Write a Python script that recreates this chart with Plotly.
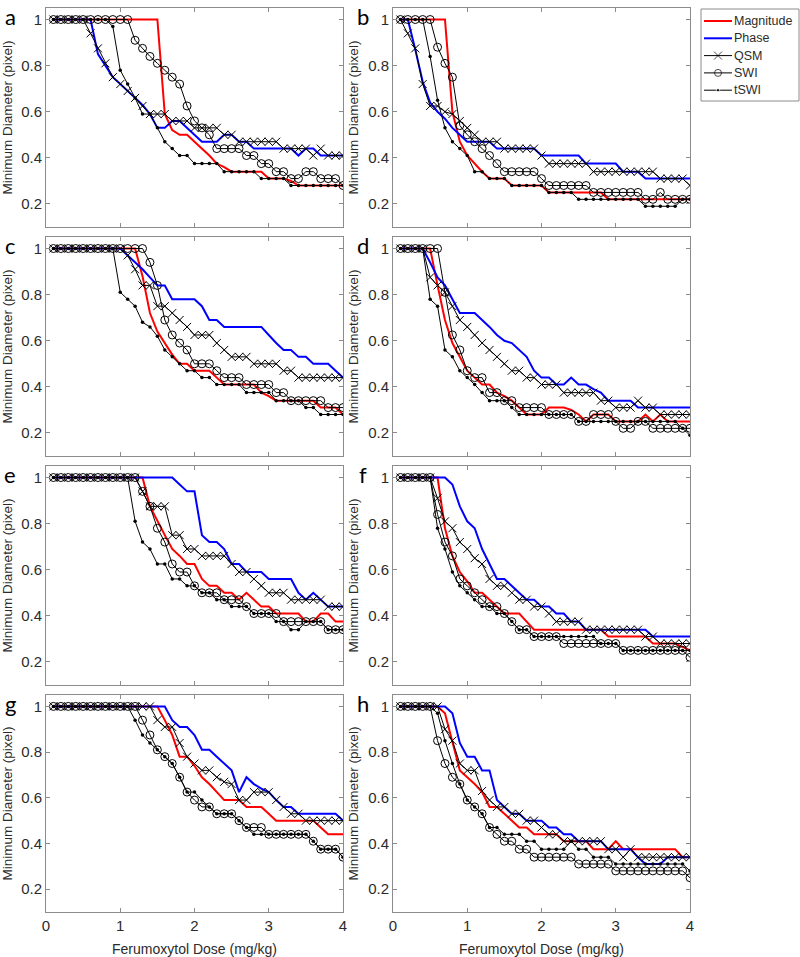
import plotly.graph_objects as go
from plotly.subplots import make_subplots

# ferumoxytol dose (mg/kg), same grid for every panel
DOSE = [0.1, 0.2, 0.3, 0.4, 0.5, 0.6, 0.7, 0.8, 0.9, 1.0,
        1.1, 1.2, 1.3, 1.4, 1.5, 1.6, 1.7, 1.8, 1.9, 2.0,
        2.1, 2.2, 2.3, 2.4, 2.5, 2.6, 2.7, 2.8, 2.9, 3.0,
        3.1, 3.2, 3.3, 3.4, 3.5, 3.6, 3.7, 3.8, 3.9, 4.0]

PANEL_LETTERS = ["a", "b", "c", "d", "e", "f", "g", "h"]
SERIES_NAMES = ["Magnitude", "Phase", "QSM", "SWI", "tSWI"]
X_TICKS = [0, 1, 2, 3, 4]
Y_TICKS = [0.2, 0.4, 0.6, 0.8, 1.0]
Y_TICKTEXT = ["0.2", "0.4", "0.6", "0.8", "1"]

# ---- panel a
A_MAG = [1, 1, 1, 1, 1, 1, 1, 1, 1, 1,
         1, 1, 1, 1, 1, 0.59, 0.52, 0.5, 0.5, 0.47,
         0.44, 0.41, 0.375, 0.36, 0.34, 0.34, 0.34, 0.34, 0.34, 0.31,
         0.31, 0.31, 0.30, 0.28, 0.28, 0.28, 0.28, 0.28, 0.28, 0.28]
A_PHASE = [1, 1, 1, 1, 1, 1, 0.85, 0.8, 0.75, 0.72,
           0.69, 0.66, 0.63, 0.59, 0.53, 0.53, 0.56, 0.56, 0.53, 0.5,
           0.47, 0.47, 0.47, 0.5, 0.5, 0.47, 0.47, 0.44, 0.44, 0.44,
           0.44, 0.44, 0.44, 0.41, 0.44, 0.44, 0.41, 0.41, 0.41, 0.41]
A_QSM = [1, 1, 1, 1, 1, 0.94, 0.875, 0.81, 0.75, 0.72,
         0.69, 0.66, 0.625, 0.59, 0.59, 0.59, 0.56, 0.56, 0.56, 0.53,
         0.53, 0.53, 0.53, 0.5, 0.5, 0.47, 0.47, 0.47, 0.47, 0.47,
         0.47, 0.44, 0.44, 0.44, 0.44, 0.41, 0.44, 0.41, 0.41, 0.41]
A_SWI = [1, 1, 1, 1, 1, 1, 1, 1, 1, 1,
         1, 0.91, 0.875, 0.84, 0.81, 0.78, 0.75, 0.72, 0.625, 0.56,
         0.53, 0.5, 0.44, 0.44, 0.44, 0.44, 0.41, 0.41, 0.375, 0.375,
         0.34, 0.34, 0.31, 0.31, 0.34, 0.34, 0.31, 0.31, 0.31, 0.28]
A_TSWI = [1, 1, 1, 1, 1, 1, 1, 1, 0.97, 0.78,
          0.72, 0.66, 0.59, 0.59, 0.53, 0.47, 0.44, 0.41, 0.41, 0.375,
          0.375, 0.375, 0.375, 0.34, 0.34, 0.34, 0.34, 0.34, 0.31, 0.31,
          0.31, 0.31, 0.28, 0.28, 0.28, 0.28, 0.28, 0.28, 0.28, 0.28]

# ---- panel b
B_MAG = [1, 1, 1, 1, 1, 1, 1, 0.6, 0.47, 0.41,
         0.375, 0.34, 0.31, 0.31, 0.31, 0.28, 0.28, 0.28, 0.28, 0.28,
         0.25, 0.25, 0.25, 0.25, 0.25, 0.25, 0.25, 0.25, 0.22, 0.22,
         0.22, 0.22, 0.22, 0.22, 0.22, 0.22, 0.22, 0.22, 0.22, 0.22]
B_PHASE = [1, 1, 0.87, 0.73, 0.64, 0.6, 0.57, 0.53, 0.5, 0.47,
           0.47, 0.47, 0.47, 0.44, 0.44, 0.44, 0.44, 0.44, 0.44, 0.41,
           0.41, 0.41, 0.41, 0.41, 0.41, 0.375, 0.375, 0.375, 0.375, 0.375,
           0.34, 0.34, 0.34, 0.31, 0.31, 0.31, 0.31, 0.31, 0.31, 0.31]
B_QSM = [1, 0.94, 0.875, 0.72, 0.625, 0.625, 0.6, 0.59, 0.56, 0.53,
         0.5, 0.47, 0.47, 0.47, 0.44, 0.44, 0.44, 0.44, 0.44, 0.41,
         0.375, 0.375, 0.375, 0.375, 0.375, 0.375, 0.34, 0.34, 0.34, 0.34,
         0.34, 0.34, 0.34, 0.34, 0.34, 0.31, 0.31, 0.31, 0.31, 0.28]
B_SWI = [1, 1, 1, 1, 1, 0.88, 0.81, 0.75, 0.54, 0.5,
         0.47, 0.44, 0.41, 0.375, 0.34, 0.34, 0.34, 0.34, 0.34, 0.31,
         0.28, 0.28, 0.28, 0.28, 0.28, 0.28, 0.25, 0.25, 0.25, 0.25,
         0.25, 0.25, 0.25, 0.22, 0.22, 0.25, 0.22, 0.22, 0.22, 0.22]
B_TSWI = [1, 1, 1, 1, 0.84, 0.65, 0.53, 0.47, 0.44, 0.41,
          0.34, 0.34, 0.31, 0.31, 0.31, 0.28, 0.28, 0.28, 0.28, 0.28,
          0.25, 0.25, 0.25, 0.25, 0.22, 0.22, 0.22, 0.22, 0.22, 0.22,
          0.22, 0.22, 0.22, 0.19, 0.19, 0.19, 0.19, 0.19, 0.22, 0.22]

# ---- panel c
C_MAG = [1, 1, 1, 1, 1, 1, 1, 1, 1, 1,
         1, 1, 0.88, 0.72, 0.64, 0.59, 0.54, 0.5, 0.5, 0.47,
         0.47, 0.47, 0.44, 0.41, 0.41, 0.41, 0.41, 0.41, 0.375, 0.36,
         0.34, 0.34, 0.34, 0.34, 0.34, 0.34, 0.31, 0.31, 0.31, 0.28]
C_PHASE = [1, 1, 1, 1, 1, 1, 1, 1, 1, 1,
           0.97, 0.94, 0.91, 0.875, 0.84, 0.84, 0.78, 0.78, 0.78, 0.78,
           0.75, 0.69, 0.69, 0.66, 0.66, 0.66, 0.66, 0.66, 0.66, 0.625,
           0.59, 0.56, 0.56, 0.53, 0.53, 0.5, 0.5, 0.5, 0.47, 0.44]
C_QSM = [1, 1, 1, 1, 1, 1, 1, 1, 1, 1,
         0.97, 0.91, 0.84, 0.84, 0.75, 0.75, 0.72, 0.69, 0.66, 0.625,
         0.625, 0.625, 0.59, 0.56, 0.53, 0.53, 0.53, 0.5, 0.5, 0.5,
         0.5, 0.47, 0.47, 0.44, 0.44, 0.44, 0.44, 0.44, 0.44, 0.44]
C_SWI = [1, 1, 1, 1, 1, 1, 1, 1, 1, 1,
         1, 1, 1, 0.94, 0.84, 0.69, 0.625, 0.59, 0.56, 0.5,
         0.5, 0.5, 0.47, 0.44, 0.44, 0.44, 0.41, 0.41, 0.41, 0.41,
         0.375, 0.375, 0.34, 0.34, 0.34, 0.34, 0.34, 0.31, 0.31, 0.31]
C_TSWI = [1, 1, 1, 1, 1, 1, 1, 1, 1, 0.81,
          0.78, 0.75, 0.68, 0.66, 0.62, 0.56, 0.53, 0.5, 0.47, 0.47,
          0.44, 0.44, 0.41, 0.41, 0.41, 0.41, 0.375, 0.375, 0.375, 0.375,
          0.34, 0.34, 0.34, 0.34, 0.31, 0.31, 0.28, 0.28, 0.28, 0.28]

# ---- panel d
D_MAG = [1, 1, 1, 1, 1, 0.84, 0.69, 0.59, 0.53, 0.47,
         0.44, 0.41, 0.41, 0.375, 0.36, 0.34, 0.31, 0.28, 0.28, 0.28,
         0.31, 0.31, 0.31, 0.3, 0.28, 0.25, 0.28, 0.28, 0.28, 0.25,
         0.25, 0.25, 0.25, 0.28, 0.25, 0.28, 0.25, 0.25, 0.25, 0.25]
D_PHASE = [1, 1, 1, 1, 0.94, 0.875, 0.84, 0.78, 0.72, 0.72,
           0.72, 0.69, 0.66, 0.625, 0.6, 0.59, 0.56, 0.53, 0.47, 0.44,
           0.44, 0.41, 0.41, 0.44, 0.41, 0.41, 0.39, 0.375, 0.34, 0.34,
           0.34, 0.34, 0.31, 0.31, 0.31, 0.31, 0.31, 0.31, 0.31, 0.31]
D_QSM = [1, 1, 1, 1, 0.875, 0.84, 0.81, 0.75, 0.69, 0.66,
         0.625, 0.59, 0.56, 0.53, 0.5, 0.47, 0.47, 0.44, 0.44, 0.41,
         0.41, 0.41, 0.375, 0.375, 0.375, 0.375, 0.375, 0.34, 0.34, 0.31,
         0.31, 0.31, 0.34, 0.31, 0.31, 0.28, 0.28, 0.28, 0.28, 0.28]
D_SWI = [1, 1, 1, 1, 1, 1, 0.81, 0.625, 0.56, 0.47,
         0.44, 0.44, 0.375, 0.375, 0.34, 0.34, 0.31, 0.31, 0.31, 0.31,
         0.28, 0.28, 0.28, 0.28, 0.25, 0.25, 0.28, 0.28, 0.28, 0.25,
         0.22, 0.22, 0.25, 0.25, 0.22, 0.22, 0.22, 0.22, 0.22, 0.22]
D_TSWI = [1, 1, 1, 1, 0.78, 0.75, 0.56, 0.53, 0.47, 0.44,
          0.41, 0.375, 0.34, 0.34, 0.34, 0.31, 0.28, 0.28, 0.28, 0.28,
          0.28, 0.28, 0.28, 0.28, 0.25, 0.25, 0.25, 0.25, 0.25, 0.25,
          0.25, 0.25, 0.25, 0.25, 0.25, 0.25, 0.25, 0.25, 0.22, 0.19]

# ---- panel e
E_MAG = [1, 1, 1, 1, 1, 1, 1, 1, 1, 1,
         1, 1, 1, 0.875, 0.81, 0.75, 0.69, 0.66, 0.625, 0.625,
         0.56, 0.53, 0.53, 0.5, 0.5, 0.47, 0.5, 0.47, 0.44, 0.44,
         0.41, 0.41, 0.41, 0.41, 0.375, 0.375, 0.41, 0.41, 0.375, 0.375]
E_PHASE = [1, 1, 1, 1, 1, 1, 1, 1, 1, 1,
           1, 1, 1, 1, 1, 1, 1, 0.97, 0.94, 0.94,
           0.75, 0.72, 0.72, 0.69, 0.625, 0.625, 0.59, 0.59, 0.59, 0.56,
           0.56, 0.56, 0.56, 0.5, 0.47, 0.5, 0.47, 0.44, 0.44, 0.44]
E_QSM = [1, 1, 1, 1, 1, 1, 1, 1, 1, 1,
         1, 1, 0.94, 0.875, 0.875, 0.875, 0.75, 0.75, 0.69, 0.69,
         0.66, 0.66, 0.66, 0.66, 0.625, 0.59, 0.59, 0.56, 0.53, 0.5,
         0.5, 0.5, 0.47, 0.47, 0.47, 0.47, 0.47, 0.44, 0.44, 0.44]
E_SWI = [1, 1, 1, 1, 1, 1, 1, 1, 1, 1,
         1, 1, 0.94, 0.875, 0.78, 0.72, 0.625, 0.59, 0.59, 0.53,
         0.5, 0.5, 0.5, 0.47, 0.47, 0.47, 0.44, 0.41, 0.41, 0.41,
         0.41, 0.375, 0.375, 0.375, 0.375, 0.375, 0.375, 0.34, 0.34, 0.34]
E_TSWI = [1, 1, 1, 1, 1, 1, 1, 1, 1, 1,
          1, 0.81, 0.72, 0.69, 0.625, 0.625, 0.56, 0.56, 0.53, 0.53,
          0.5, 0.5, 0.47, 0.47, 0.44, 0.44, 0.44, 0.41, 0.41, 0.41,
          0.375, 0.375, 0.34, 0.34, 0.375, 0.375, 0.375, 0.34, 0.34, 0.34]

# ---- panel f
F_MAG = [1, 1, 1, 1, 1, 1, 0.78, 0.66, 0.59, 0.55,
         0.5, 0.5, 0.47, 0.44, 0.41, 0.41, 0.41, 0.375, 0.34, 0.34,
         0.34, 0.34, 0.34, 0.34, 0.34, 0.34, 0.34, 0.34, 0.31, 0.31,
         0.31, 0.31, 0.31, 0.31, 0.28, 0.28, 0.28, 0.28, 0.265, 0.25]
F_PHASE = [1, 1, 1, 1, 1, 1, 1, 0.97, 0.875, 0.81,
           0.78, 0.69, 0.625, 0.56, 0.56, 0.53, 0.5, 0.47, 0.47, 0.44,
           0.44, 0.41, 0.41, 0.375, 0.375, 0.34, 0.34, 0.34, 0.34, 0.34,
           0.34, 0.34, 0.34, 0.34, 0.31, 0.31, 0.31, 0.31, 0.31, 0.31]
F_QSM = [1, 1, 1, 1, 1, 0.91, 0.81, 0.78, 0.72, 0.69,
         0.65, 0.625, 0.56, 0.53, 0.53, 0.5, 0.47, 0.47, 0.44, 0.44,
         0.41, 0.375, 0.375, 0.375, 0.375, 0.34, 0.34, 0.34, 0.34, 0.34,
         0.34, 0.34, 0.34, 0.31, 0.31, 0.28, 0.28, 0.28, 0.28, 0.28]
F_SWI = [1, 1, 1, 1, 1, 0.84, 0.72, 0.66, 0.56, 0.53,
         0.5, 0.47, 0.44, 0.44, 0.41, 0.375, 0.34, 0.34, 0.31, 0.31,
         0.31, 0.31, 0.28, 0.28, 0.28, 0.28, 0.28, 0.28, 0.28, 0.28,
         0.25, 0.25, 0.25, 0.25, 0.25, 0.25, 0.25, 0.25, 0.25, 0.22]
F_TSWI = [1, 1, 1, 1, 1, 0.78, 0.69, 0.59, 0.53, 0.5,
          0.47, 0.44, 0.44, 0.41, 0.41, 0.375, 0.34, 0.34, 0.31, 0.31,
          0.31, 0.31, 0.31, 0.31, 0.31, 0.31, 0.31, 0.28, 0.28, 0.28,
          0.25, 0.25, 0.25, 0.25, 0.25, 0.25, 0.25, 0.25, 0.25, 0.25]

# ---- panel g
G_MAG = [1, 1, 1, 1, 1, 1, 1, 1, 1, 1,
         1, 1, 1, 1, 1, 0.94, 0.875, 0.78, 0.78, 0.74,
         0.69, 0.66, 0.625, 0.59, 0.59, 0.59, 0.56, 0.56, 0.56, 0.53,
         0.5, 0.5, 0.5, 0.5, 0.5, 0.5, 0.47, 0.44, 0.44, 0.44]
G_PHASE = [1, 1, 1, 1, 1, 1, 1, 1, 1, 1,
           1, 1, 1, 1, 1, 1, 0.94, 0.91, 0.91, 0.875,
           0.81, 0.81, 0.78, 0.75, 0.72, 0.625, 0.69, 0.66, 0.64, 0.625,
           0.59, 0.56, 0.56, 0.53, 0.53, 0.53, 0.53, 0.53, 0.53, 0.5]
G_QSM = [1, 1, 1, 1, 1, 1, 1, 1, 1, 1,
         1, 1, 1, 1, 0.94, 0.91, 0.91, 0.84, 0.78, 0.75,
         0.72, 0.72, 0.69, 0.67, 0.66, 0.59, 0.59, 0.625, 0.625, 0.625,
         0.59, 0.56, 0.53, 0.53, 0.5, 0.5, 0.5, 0.5, 0.5, 0.5]
G_SWI = [1, 1, 1, 1, 1, 1, 1, 1, 1, 1,
         1, 1, 0.94, 0.875, 0.81, 0.78, 0.75, 0.69, 0.625, 0.59,
         0.56, 0.56, 0.53, 0.53, 0.53, 0.5, 0.47, 0.47, 0.47, 0.44,
         0.44, 0.44, 0.44, 0.44, 0.44, 0.41, 0.375, 0.375, 0.375, 0.34]
G_TSWI = [1, 1, 1, 1, 1, 1, 1, 1, 1, 1,
          1, 0.94, 0.875, 0.84, 0.81, 0.78, 0.75, 0.69, 0.625, 0.625,
          0.59, 0.56, 0.53, 0.53, 0.53, 0.5, 0.47, 0.44, 0.44, 0.44,
          0.44, 0.44, 0.44, 0.44, 0.44, 0.41, 0.375, 0.375, 0.375, 0.34]

# ---- panel h
H_MAG = [1, 1, 1, 1, 1, 1, 0.97, 0.84, 0.72, 0.69,
         0.66, 0.625, 0.56, 0.56, 0.53, 0.5, 0.47, 0.47, 0.44, 0.44,
         0.44, 0.44, 0.41, 0.41, 0.41, 0.41, 0.375, 0.375, 0.375, 0.41,
         0.375, 0.375, 0.375, 0.375, 0.375, 0.375, 0.375, 0.375, 0.34, 0.34]
H_PHASE = [1, 1, 1, 1, 1, 1, 1, 0.97, 0.84, 0.78,
           0.78, 0.72, 0.72, 0.59, 0.56, 0.53, 0.53, 0.5, 0.5, 0.5,
           0.47, 0.47, 0.44, 0.44, 0.41, 0.41, 0.41, 0.41, 0.375, 0.375,
           0.375, 0.375, 0.34, 0.31, 0.31, 0.31, 0.34, 0.34, 0.34, 0.34]
H_QSM = [1, 1, 1, 1, 1, 1, 0.9, 0.85, 0.75, 0.72,
         0.72, 0.63, 0.59, 0.56, 0.56, 0.53, 0.53, 0.5, 0.5, 0.47,
         0.44, 0.44, 0.41, 0.41, 0.41, 0.41, 0.41, 0.41, 0.375, 0.375,
         0.34, 0.375, 0.34, 0.34, 0.34, 0.34, 0.34, 0.34, 0.34, 0.34]
H_SWI = [1, 1, 1, 1, 1, 0.85, 0.75, 0.69, 0.66, 0.59,
         0.56, 0.53, 0.47, 0.44, 0.41, 0.41, 0.375, 0.375, 0.34, 0.34,
         0.34, 0.34, 0.34, 0.34, 0.31, 0.31, 0.31, 0.31, 0.31, 0.28,
         0.28, 0.28, 0.28, 0.28, 0.28, 0.28, 0.28, 0.28, 0.28, 0.25]
H_TSWI = [1, 1, 1, 1, 1, 0.97, 0.85, 0.75, 0.66, 0.59,
          0.56, 0.53, 0.47, 0.47, 0.44, 0.44, 0.44, 0.41, 0.41, 0.375,
          0.375, 0.375, 0.375, 0.41, 0.375, 0.375, 0.34, 0.34, 0.34, 0.31,
          0.31, 0.31, 0.31, 0.31, 0.31, 0.31, 0.31, 0.31, 0.31, 0.28]

PANELS = [
    (A_MAG, A_PHASE, A_QSM, A_SWI, A_TSWI),
    (B_MAG, B_PHASE, B_QSM, B_SWI, B_TSWI),
    (C_MAG, C_PHASE, C_QSM, C_SWI, C_TSWI),
    (D_MAG, D_PHASE, D_QSM, D_SWI, D_TSWI),
    (E_MAG, E_PHASE, E_QSM, E_SWI, E_TSWI),
    (F_MAG, F_PHASE, F_QSM, F_SWI, F_TSWI),
    (G_MAG, G_PHASE, G_QSM, G_SWI, G_TSWI),
    (H_MAG, H_PHASE, H_QSM, H_SWI, H_TSWI),
]

FRAME = "#8c8c8c"
TEXT = "#2b2b2b"
FONT = "Liberation Sans, Arial, sans-serif"

STYLES = {
    "Magnitude": dict(mode="lines", line=dict(color="#ff0000", width=2)),
    "Phase": dict(mode="lines", line=dict(color="#0000ff", width=2)),
    "QSM": dict(mode="lines+markers", line=dict(color="black", width=1),
                marker=dict(symbol="x-thin", size=8, color="black",
                            line=dict(color="black", width=1))),
    "SWI": dict(mode="lines+markers", line=dict(color="black", width=1),
                marker=dict(symbol="circle-open", size=8, color="black",
                            line=dict(color="black", width=1))),
    "tSWI": dict(mode="lines+markers", line=dict(color="black", width=1),
                 marker=dict(symbol="circle", size=3.5, color="black")),
}
LEGEND_MARKER_SIZE = {"Magnitude": 0, "Phase": 0, "QSM": 8, "SWI": 7, "tSWI": 3.5}

# page geometry in pixels
W, H = 800, 957
ML, MR, MT, MB = 46, 0, 8, 45
PW, PH = W - ML - MR, H - MT - MB
COL_X = [(46, 343), (393, 690)]          # plot frames, left/right column
ROW_Y = [(8, 227), (237, 456), (466, 685), (695, 912)]
LEG_BOX = (701, 9, 799, 101)


def px_x(px):
    return (px - ML) / PW


def px_y(py):
    return 1 - (py - MT) / PH


fig = make_subplots(rows=4, cols=2)

for i, series in enumerate(PANELS):
    row, col = i // 2 + 1, i % 2 + 1
    for name, vals in zip(SERIES_NAMES, series):
        fig.add_trace(go.Scatter(x=DOSE, y=vals, name=name, showlegend=False,
                                 **STYLES[name]),
                      row=row, col=col)
    fig.update_xaxes(domain=[px_x(COL_X[col - 1][0]), px_x(COL_X[col - 1][1])],
                     row=row, col=col)
    fig.update_yaxes(domain=[px_y(ROW_Y[row - 1][1]), px_y(ROW_Y[row - 1][0])],
                     row=row, col=col)

fig.update_xaxes(range=[0, 4], tickvals=X_TICKS, ticks="inside", ticklen=4,
                 tickcolor=FRAME, showline=True, linecolor=FRAME, linewidth=1,
                 mirror="ticks", showgrid=False, zeroline=False,
                 showticklabels=False, automargin=False,
                 tickfont=dict(size=15, color=TEXT))
fig.update_xaxes(showticklabels=True, row=4,
                 title=dict(text="Ferumoxytol Dose (mg/kg)",
                            font=dict(size=14, color=TEXT), standoff=12))
fig.update_yaxes(range=[0.1, 1.05], tickvals=Y_TICKS, ticktext=Y_TICKTEXT,
                 ticks="inside", ticklen=4, tickcolor=FRAME, showline=True,
                 linecolor=FRAME, linewidth=1, mirror="ticks", showgrid=False,
                 zeroline=False, automargin=False,
                 tickfont=dict(size=15, color=TEXT),
                 title=dict(text="Minimum Diameter (pixel)",
                            font=dict(size=13.5, color=TEXT), standoff=6))

# panel letters
for i, letter in enumerate(PANEL_LETTERS):
    r, c = i // 2, i % 2
    fig.add_annotation(text=letter, xref="paper", yref="paper",
                       x=px_x(10 if c == 0 else 363), y=px_y(ROW_Y[r][0] + 8),
                       xanchor="center", yanchor="middle", showarrow=False,
                       font=dict(family="Lato, Noto Sans", size=22, color="black"))

# legend drawn by hand on its own small axis so it fits like the original
lx0, ly0, lx1, ly1 = LEG_BOX
fig.update_layout(
    xaxis9=dict(domain=[px_x(lx0), px_x(lx1)], range=[0, 98], visible=False,
                fixedrange=True, anchor="y9"),
    yaxis9=dict(domain=[px_y(ly1), px_y(ly0)], range=[92, 0], visible=False,
                fixedrange=True, anchor="x9"),
)
fig.add_shape(type="rect", xref="paper", yref="paper",
              x0=px_x(lx0), x1=px_x(lx1), y0=px_y(ly1), y1=px_y(ly0),
              line=dict(color=FRAME, width=1), fillcolor="white", layer="below")
for k, name in enumerate(SERIES_NAMES):
    yy = 12 + k * 17.3
    st = STYLES[name]
    sz = LEGEND_MARKER_SIZE[name]
    mk = dict(st.get("marker", {}))
    mk["size"] = [0, sz, 0]
    fig.add_trace(go.Scatter(x=[3, 17, 31], y=[yy, yy, yy], mode="lines+markers",
                             line=st["line"], marker=mk, showlegend=False,
                             hoverinfo="skip", xaxis="x9", yaxis="y9"))
    fig.add_annotation(text=name, xref="x9", yref="y9", x=31, y=yy,
                       xanchor="left", yanchor="middle", showarrow=False,
                       font=dict(size=12.5, color=TEXT, family=FONT))

fig.update_layout(
    width=W, height=H,
    margin=dict(l=ML, r=MR, t=MT, b=MB, autoexpand=False),
    plot_bgcolor="white", paper_bgcolor="white",
    font=dict(family=FONT, color=TEXT),
    showlegend=False,
)

fig.write_html("out.html", config={"displayModeBar": False},
               post_script="document.body.style.margin='0';"
                           "document.body.style.overflow='hidden';")
